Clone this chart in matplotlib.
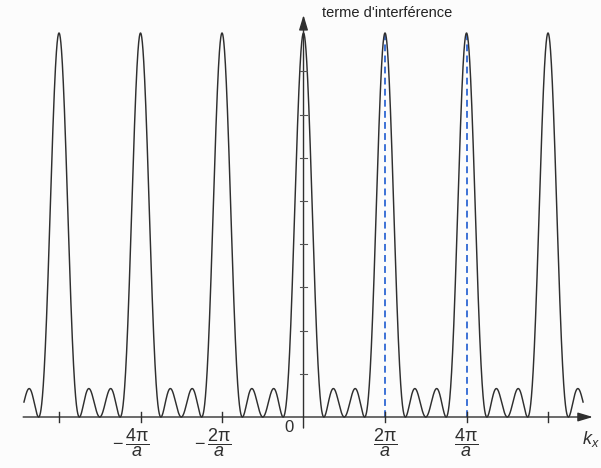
import numpy as np
import matplotlib
matplotlib.use("Agg")
import matplotlib.pyplot as plt

plt.rcParams['font.family'] = ['Liberation Sans', 'DejaVu Sans']
plt.rcParams['mathtext.fontset'] = 'custom'
plt.rcParams['mathtext.rm'] = 'Liberation Sans'
plt.rcParams['mathtext.it'] = 'Liberation Sans:italic'
plt.rcParams['mathtext.bf'] = 'Liberation Sans:bold'

# interference term for N slits, k_x measured in units of 2*pi/a
N_SLITS = 4
KX_RANGE = (-3.43, 3.43)
XTICK_POS = [-3, -2, -1, 1, 2, 3]
XTICK_LABELS = {-2: r'$-\,\dfrac{\mathrm{4π}}{a}$', -1: r'$-\,\dfrac{\mathrm{2π}}{a}$',
                1: r'$\dfrac{\mathrm{2π}}{a}$', 2: r'$\dfrac{\mathrm{4π}}{a}$'}
YTICK_POS = [1.8, 3.6, 5.4, 7.2, 9.0, 10.8, 12.6, 14.4]
DASHED_ORDERS = [1, 2]

u = np.linspace(KX_RANGE[0], KX_RANGE[1], 6000)
num = np.sin(N_SLITS * np.pi * u) ** 2
den = np.sin(np.pi * u) ** 2
safe = den > 1e-12
intensity = np.where(safe, num / np.where(safe, den, 1.0), N_SLITS ** 2)

fig = plt.figure(figsize=(6.01, 4.68), dpi=100)
fig.patch.set_facecolor('#fcfcfc')
ax = fig.add_axes([0, 0, 1, 1])
ax.set_xlim(-3.724, 3.650)
ax.set_ylim(-2.125, 17.375)
ax.axis('off')

ink = '#2f2f2f'

# blue dashed markers under the principal maxima
for n in DASHED_ORDERS:
    ax.plot([n, n], [0, N_SLITS ** 2 - 0.1], color='#3d72d6', lw=1.4,
            ls=(0, (3.5, 2.2)), zorder=2)

ax.plot(u, intensity, color=ink, lw=1.05, zorder=3)

# axes with arrow heads
arrow = dict(arrowstyle='-|>,head_length=0.6,head_width=0.18', lw=1.0,
             color=ink, mutation_scale=15, shrinkA=0, shrinkB=0)
ax.annotate('', xy=(3.55, 0), xytext=(-3.44, 0), arrowprops=arrow, zorder=4)
ax.annotate('', xy=(0, 16.75), xytext=(0, -0.46), arrowprops=arrow, zorder=4)

for x in XTICK_POS:
    ax.plot([x, x], [-0.21, 0.19], color=ink, lw=1.0, zorder=4)
for y in YTICK_POS:
    ax.plot([-0.04, 0.04], [y, y], color='#555555', lw=0.8, zorder=4)

for x, lab in XTICK_LABELS.items():
    dx = -0.12 if x < 0 else 0.0
    ax.text(x + dx, -0.38, lab, ha='center', va='top', fontsize=13, color=ink)

ax.text(-0.18, -0.45, '0', ha='center', va='center', fontsize=12, color=ink)
ax.text(3.52, -0.9, r'$k_x$', ha='center', va='center', fontsize=13, color=ink)
ax.text(0.23, 16.85, "terme d'interférence", ha='left', va='center',
        fontsize=10.5, color='#222222')

fig.savefig('out.png', dpi=100, facecolor=fig.get_facecolor())
